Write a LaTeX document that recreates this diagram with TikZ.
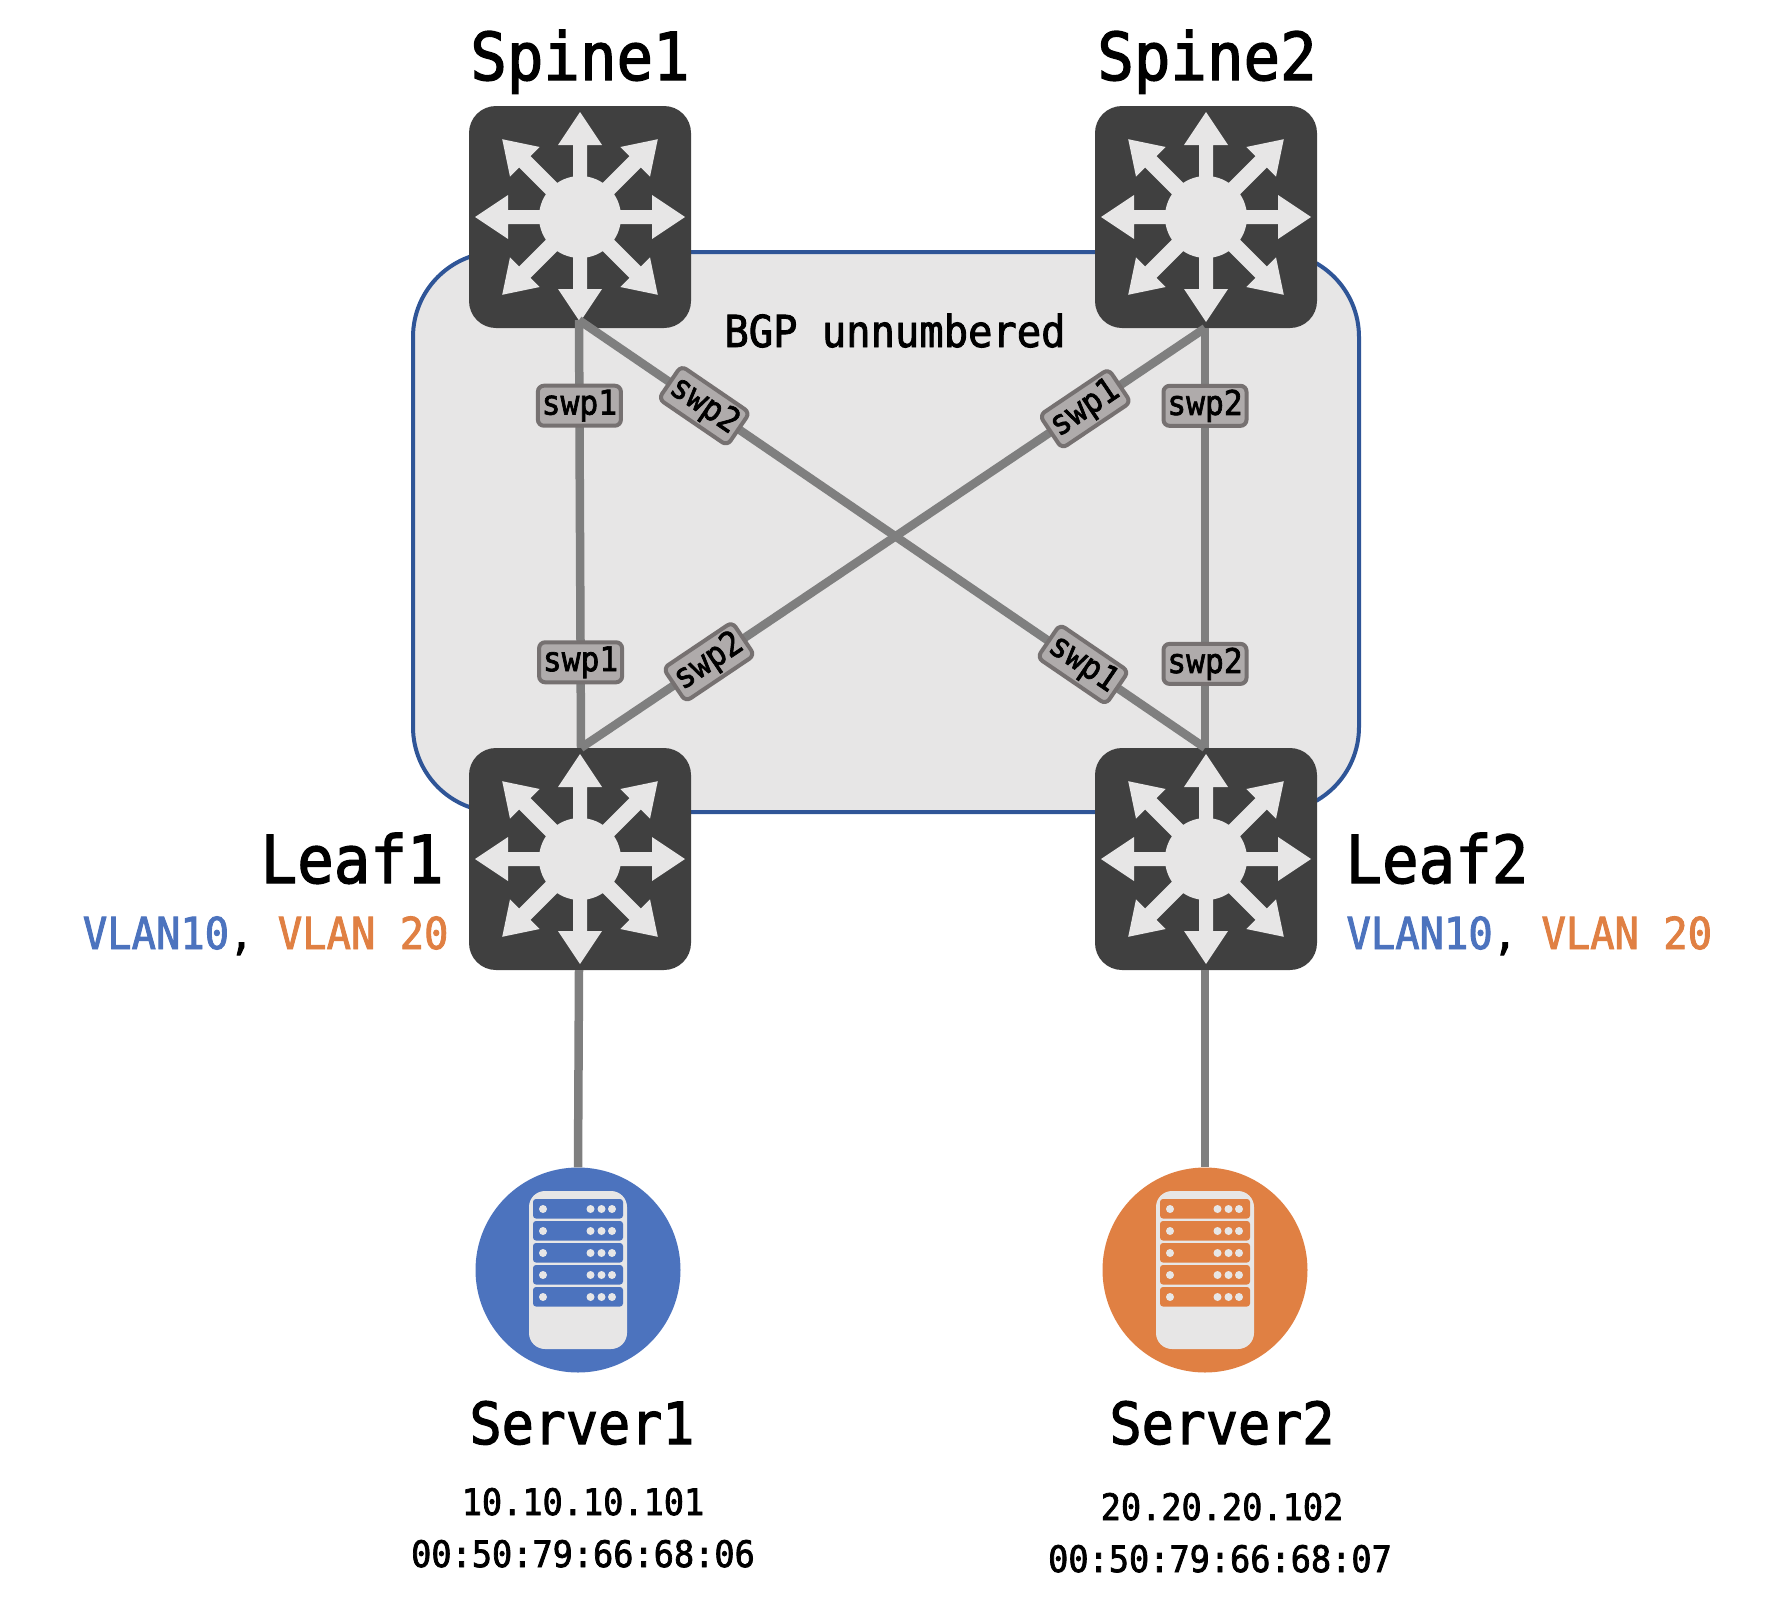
\documentclass[tikz,border=0pt]{standalone}
\usepackage{fontspec}
\setmainfont[FakeStretch=0.92,FakeBold=2]{DejaVu Sans Mono}
\definecolor{groupline}{HTML}{2F5597}
\definecolor{lightgrey}{HTML}{E7E6E6}
\definecolor{switchgrey}{HTML}{404040}
\definecolor{linkgrey}{HTML}{7F7F7F}
\definecolor{portfill}{HTML}{AFABAB}
\definecolor{portline}{HTML}{767171}
\definecolor{vlanblue}{HTML}{4C73BE}
\definecolor{vlanorange}{HTML}{E08043}
\tikzset{
    switchbox/.style={fill=switchgrey, rounded corners=27pt, minimum size=222pt, inner sep=0pt},
    serverdisc/.style={circle, minimum size=205pt, inner sep=0pt},
    groupbox/.style={draw=groupline, fill=lightgrey, line width=4pt, rounded corners=85pt},
    link/.style={draw=linkgrey, line width=8.5pt},
    portlabel/.style={fill=portfill, draw=portline, line width=4pt, rounded corners=6pt, minimum width=83pt, minimum height=40pt, inner sep=0pt, font=\fontsize{34}{38}\selectfont},
    devname/.style={anchor=base, font=\fontsize{66}{70}\selectfont},
    hostname/.style={anchor=base, font=\fontsize{58}{62}\selectfont},
    vlantext/.style={anchor=base, font=\fontsize{44}{48}\selectfont},
    addrtext/.style={anchor=base, font=\fontsize{36.5}{40}\selectfont},
    switchicon/.pic={
        \fill[lightgrey] (0,0) circle (41);
        \foreach \a in {0,90,180,270}
            \fill[lightgrey, rotate=\a] (-7,0) -- (-7,72) -- (-22,72) -- (0,105) -- (22,72) -- (7,72) -- (7,0) -- cycle;
        \foreach \a in {45,135,225,315}
            \fill[lightgrey, rotate=\a] (-8,0) -- (-8,78) -- (-21,78) -- (0,110) -- (21,78) -- (8,78) -- (8,0) -- cycle;
    },
    servericon/.pic={
        \fill[lightgrey, rounded corners=16pt] (-49,-79) rectangle (49,79);
        \foreach \r in {0,1,2,3,4} {
            \fill[#1, rounded corners=3pt] (-45,-71+22*\r) rectangle (45,-51.5+22*\r);
            \foreach \d in {-35,12.5,23.5,34}
                \fill[lightgrey] (\d,-61+22*\r) circle (4);
        }
    },
}
\begin{document}
\begin{tikzpicture}[x=1pt, y=-1pt]
    \useasboundingbox (0,0) rectangle (1786,1622);
    \draw[groupbox] (413,252) rectangle (1359,812);
    \node[switchbox] (spine1) at (580,217) {};
    \node[switchbox] (spine2) at (1206,217) {};
    \node[switchbox] (leaf1) at (580,859) {};
    \node[switchbox] (leaf2) at (1206,859) {};
    \pic at (spine1) {switchicon};
    \pic at (spine2) {switchicon};
    \pic at (leaf1) {switchicon};
    \pic at (leaf2) {switchicon};
    \node[serverdisc, fill=vlanblue] (server1) at (578,1270) {};
    \node[serverdisc, fill=vlanorange] (server2) at (1205,1270) {};
    \pic at (server1) {servericon=vlanblue};
    \pic at (server2) {servericon=vlanorange};
    \node[anchor=base] (bgp) at (895,347) {\fontsize{44}{48}\selectfont BGP unnumbered};
    \draw[link] ([xshift=-1pt,yshift=8pt]spine1.south) -- ([xshift=1pt]leaf1.north)
        node[portlabel, pos=.2] (s1p1) {swp1} node[portlabel, pos=.8] (l1p1) {swp1};
    \draw[link] ([xshift=-1pt,yshift=8pt]spine1.south) -- ([xshift=-1pt]leaf2.north)
        node[portlabel, sloped, pos=.2] (s1p2) {swp2} node[portlabel, sloped, pos=.805] (l2p1) {swp1};
    \draw[link] ([xshift=-1pt]spine2.south) -- ([xshift=1pt]leaf1.north)
        node[portlabel, sloped, pos=.192] (s2p1) {swp1} node[portlabel, sloped, pos=.795] (l1p2) {swp2};
    \draw[link] ([xshift=-1pt]spine2.south) -- ([xshift=-1pt]leaf2.north)
        node[portlabel, pos=.185] (s2p2) {swp2} node[portlabel, pos=.8] (l2p2) {swp2};
    \draw[link] ([xshift=-1pt]leaf1.south) -- (server1.north);
    \draw[link] ([xshift=-1pt]leaf2.south) -- (server2.north);
    \node[devname] (spine1name) at (580,80) {Spine1};
    \node[devname] (spine2name) at (1207,80) {Spine2};
    \node[devname, anchor=base east] (leaf1name) at (447,883) {Leaf1};
    \node[devname, anchor=base west] (leaf2name) at (1342,883) {Leaf2};
    \node[vlantext, anchor=base east] (leaf1vlan) at (452,949) {\textcolor{vlanblue}{VLAN10}, \textcolor{vlanorange}{VLAN 20}};
    \node[vlantext, anchor=base west] (leaf2vlan) at (1343,949) {\textcolor{vlanblue}{VLAN10}, \textcolor{vlanorange}{VLAN 20}};
    \node[hostname] (server1name) at (582,1444) {Server1};
    \node[hostname] (server2name) at (1222,1444) {Server2};
    \node[addrtext] (server1ip) at (583,1515) {10.10.10.101};
    \node[addrtext] (server1mac) at (583,1567) {00:50:79:66:68:06};
    \node[addrtext] (server2ip) at (1222,1520) {20.20.20.102};
    \node[addrtext] (server2mac) at (1220,1572) {00:50:79:66:68:07};
\end{tikzpicture}
\end{document}
